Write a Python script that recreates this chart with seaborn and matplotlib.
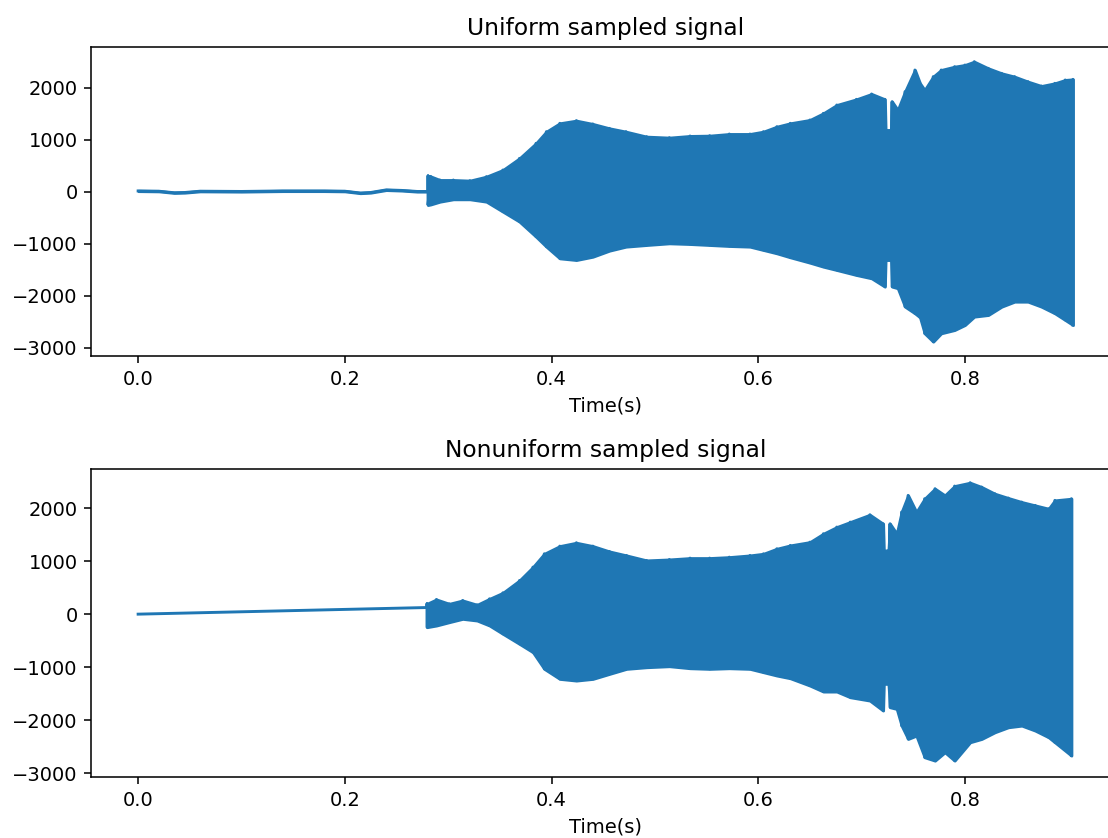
import numpy as np
import pandas as pd
import matplotlib
matplotlib.use("Agg")
import matplotlib.pyplot as plt
import seaborn as sns

# ---------------- data ----------------
# Uniform panel: quiet part before the burst (time, value)
uni_pre_t = [0.0, 0.02, 0.035, 0.045, 0.06, 0.10, 0.14, 0.18, 0.20, 0.215, 0.225, 0.24, 0.255, 0.27, 0.2805]
uni_pre_v = [20, 15, -15, -10, 15, 10, 20, 20, 15, -20, -10, 40, 30, 10, 10]

# Uniform panel: envelope of the oscillating burst
uni_t = [0.2805, 0.283, 0.292, 0.305, 0.321, 0.337, 0.353, 0.369, 0.385, 0.395,
         0.408, 0.424, 0.440, 0.456, 0.472, 0.492, 0.514, 0.534, 0.553, 0.572,
         0.592, 0.605, 0.618, 0.631, 0.650, 0.663, 0.676, 0.695, 0.7097, 0.7225,
         0.7232, 0.7285, 0.7295, 0.735, 0.742, 0.7516, 0.7565, 0.761, 0.7693, 0.777,
         0.790, 0.800, 0.809, 0.8226, 0.8355, 0.848, 0.861, 0.874, 0.887, 0.897, 0.9045]
uni_hi = [310, 300, 230, 230, 218, 295, 423, 647, 936, 1160,
          1321, 1372, 1308, 1224, 1160, 1064, 1045, 1077, 1083, 1115,
          1115, 1160, 1256, 1321, 1385, 1513, 1673, 1782, 1885, 1782,
          1192, 1192, 1737, 1577, 1930, 2346, 2090, 1961, 2218, 2346,
          2410, 2442, 2506, 2378, 2282, 2218, 2122, 2038, 2090, 2154, 2166]
uni_lo = [-250, -240, -186, -140, -140, -186, -378, -570, -859, -1051,
          -1276, -1308, -1244, -1128, -1051, -1019, -987, -1000, -1019, -1038,
          -1051, -1115, -1179, -1256, -1359, -1436, -1500, -1596, -1660, -1820,
          -1308, -1308, -1820, -1850, -2205, -2333, -2410, -2718, -2878, -2718,
          -2654, -2558, -2397, -2365, -2205, -2109, -2109, -2205, -2333, -2461, -2558]

# Nonuniform panel: straight segment before the burst
non_pre_t = [0.0, 0.2795]
non_pre_v = [0, 125]

# Nonuniform panel: envelope of the oscillating burst
non_t = [0.2795, 0.2886, 0.301, 0.314, 0.328, 0.340, 0.353, 0.369, 0.382, 0.393,
         0.408, 0.424, 0.440, 0.456, 0.4725, 0.492, 0.514, 0.534, 0.553, 0.572,
         0.592, 0.605, 0.618, 0.631, 0.650, 0.663, 0.676, 0.689, 0.708, 0.7208,
         0.7215, 0.7260, 0.7275, 0.734, 0.7387, 0.745, 0.753, 0.761, 0.771, 0.7806,
         0.790, 0.805, 0.8162, 0.829, 0.842, 0.855, 0.868, 0.881, 0.887, 0.903]
non_hi = [195, 277, 195, 258, 176, 289, 403, 635, 887, 1138,
          1283, 1346, 1283, 1182, 1107, 1013, 1031, 1057, 1057, 1075,
          1107, 1138, 1233, 1296, 1358, 1516, 1642, 1736, 1874, 1704,
          1201, 1201, 1704, 1516, 1925, 2239, 1925, 2176, 2365, 2239,
          2415, 2478, 2396, 2270, 2189, 2113, 2050, 1987, 2145, 2176]
non_lo = [-245, -214, -151, -88, -120, -214, -371, -560, -717, -1031,
          -1220, -1252, -1220, -1126, -1031, -1000, -981, -1019, -1031, -1019,
          -1031, -1094, -1157, -1208, -1346, -1459, -1459, -1566, -1629, -1817,
          -1314, -1314, -1755, -1786, -2101, -2352, -2290, -2698, -2761, -2604,
          -2761, -2415, -2352, -2226, -2132, -2101, -2195, -2321, -2415, -2666]

titles = ["Uniform sampled signal", "Nonuniform sampled signal"]
xlabel = "Time(s)"
# ---------------------------------------------------------------

COLOR = "#1f77b4"


def signal_frame(pre_t, pre_v, t, hi, lo):
    xs = list(pre_t)
    ys = list(pre_v)
    for ti, h, l in zip(t, hi, lo):
        xs += [ti, ti]
        ys += [h, l]
    return pd.DataFrame({"time": xs, "value": ys})


DPI = 140
fig = plt.figure(figsize=(1108 / DPI, 838 / DPI), dpi=DPI)
ax1 = fig.add_axes([0.0825, 0.5752, 0.9283, 0.3687])
ax2 = fig.add_axes([0.0825, 0.0728, 0.9283, 0.3675])

panels = [
    (ax1, uni_pre_t, uni_pre_v, uni_t, uni_hi, uni_lo, (-3154, 2788)),
    (ax2, non_pre_t, non_pre_v, non_t, non_hi, non_lo, (-3070, 2736)),
]

for i, (ax, pt, pv, t, hi, lo, ylim) in enumerate(panels):
    df = signal_frame(pt, pv, t, hi, lo)
    sns.lineplot(data=df, x="time", y="value", sort=False, estimator=None,
                 color=COLOR, linewidth=1.5, ax=ax)
    ax.fill_between(t, lo, hi, color=COLOR, linewidth=1.5, edgecolor=COLOR)
    if i == 0:
        ax.fill_between(pt, np.array(pv) - 12, np.array(pv) + 12,
                        color=COLOR, linewidth=1.0, edgecolor=COLOR)
    ax.set_xlim(-0.0452, 0.950)
    ax.set_ylim(*ylim)
    ax.set_title(titles[i])
    ax.set_xlabel(xlabel)
    ax.set_ylabel("")

fig.savefig("out.png", dpi=DPI)
